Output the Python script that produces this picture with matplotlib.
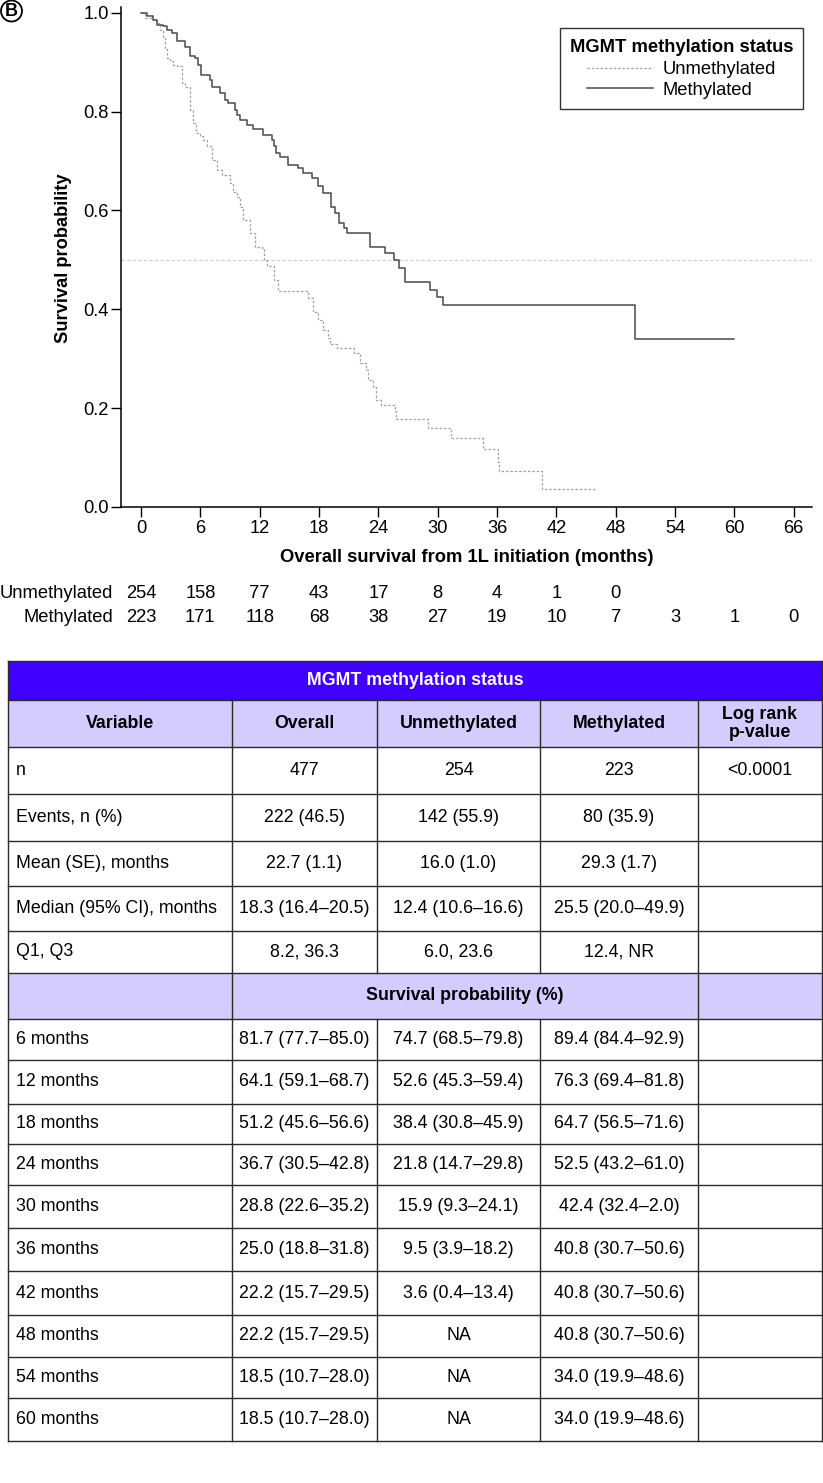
"""
Kaplan-Meier overall survival by MGMT methylation status, with risk table
and summary table underneath.
"""

import matplotlib
matplotlib.use('Agg')
import matplotlib.pyplot as plt
from matplotlib.patches import Rectangle, Circle
from matplotlib import transforms

plt.rcParams['font.family'] = ['Liberation Sans', 'DejaVu Sans']

# KM step values (time in months, survival after step)
meth_t = [0, 0.57, 1.25, 1.6, 2.26, 2.6, 3.1, 3.6, 4.45, 4.95, 5.46, 5.8, 6.1,
          6.98, 7.15, 8.0, 8.5, 8.83, 9.5, 9.7, 10.0, 10.7, 11.35, 12.37, 13.2,
          13.4, 13.7, 14.05, 14.9, 15.9, 16.4, 17.26, 17.9, 18.4, 19.2, 19.6,
          20.05, 20.5, 20.8, 23.2, 24.7, 25.6, 26.1, 26.7, 29.2, 29.96, 30.5,
          49.95, 60.0]
meth_s = [1.0, 0.993, 0.986, 0.976, 0.973, 0.966, 0.959, 0.943, 0.932, 0.912,
          0.909, 0.895, 0.875, 0.865, 0.851, 0.838, 0.824, 0.818, 0.804, 0.794,
          0.784, 0.774, 0.764, 0.753, 0.743, 0.730, 0.716, 0.709, 0.693, 0.686,
          0.676, 0.666, 0.649, 0.636, 0.608, 0.595, 0.574, 0.564, 0.554, 0.527,
          0.514, 0.500, 0.483, 0.455, 0.439, 0.424, 0.409, 0.340, 0.340]

unmeth_t = [0, 0.4, 1.25, 1.6, 1.9, 2.25, 2.4, 2.6, 2.9, 3.27, 3.6, 4.1, 4.45,
            4.95, 5.3, 5.6, 5.97, 6.3, 6.64, 7.15, 7.65, 8.16, 9.0, 9.33, 9.7,
            10.0, 10.35, 11.0, 11.5, 12.2, 12.4, 12.7, 13.4, 13.9, 16.9, 17.4,
            17.9, 18.4, 18.9, 19.1, 19.8, 21.5, 22.1, 22.8, 23.0, 23.5, 23.8,
            24.3, 25.7, 25.8, 29.0, 31.3, 34.6, 36.1, 36.2, 40.5, 45.9]
unmeth_s = [1.0, 0.99, 0.986, 0.98, 0.966, 0.949, 0.926, 0.909, 0.902, 0.895,
            0.892, 0.858, 0.851, 0.804, 0.777, 0.757, 0.750, 0.743, 0.730,
            0.703, 0.682, 0.672, 0.655, 0.638, 0.628, 0.608, 0.581, 0.554,
            0.527, 0.524, 0.500, 0.487, 0.459, 0.436, 0.422, 0.395, 0.378,
            0.358, 0.341, 0.329, 0.321, 0.311, 0.291, 0.277, 0.257, 0.243,
            0.216, 0.206, 0.193, 0.177, 0.159, 0.139, 0.118, 0.091, 0.0725,
            0.0355, 0.0355]

# numbers at risk
risk_times = [0, 6, 12, 18, 24, 30, 36, 42, 48, 54, 60, 66]
risk_unmeth = [254, 158, 77, 43, 17, 8, 4, 1, 0]
risk_meth = [223, 171, 118, 68, 38, 27, 19, 10, 7, 3, 1, 0]

# summary table
table_title = 'MGMT methylation status'
header = ['Variable', 'Overall', 'Unmethylated', 'Methylated', 'Log rank\np-value']
summary_rows = [
    ['n', '477', '254', '223', '<0.0001'],
    ['Events, n (%)', '222 (46.5)', '142 (55.9)', '80 (35.9)', ''],
    ['Mean (SE), months', '22.7 (1.1)', '16.0 (1.0)', '29.3 (1.7)', ''],
    ['Median (95% CI), months', '18.3 (16.4\u201320.5)', '12.4 (10.6\u201316.6)',
     '25.5 (20.0\u201349.9)', ''],
    ['Q1, Q3', '8.2, 36.3', '6.0, 23.6', '12.4, NR', ''],
]
surv_header = 'Survival probability (%)'
surv_labels = ['6 months', '12 months', '18 months', '24 months', '30 months',
               '36 months', '42 months', '48 months', '54 months', '60 months']
surv_overall = ['81.7 (77.7\u201385.0)', '64.1 (59.1\u201368.7)', '51.2 (45.6\u201356.6)',
                '36.7 (30.5\u201342.8)', '28.8 (22.6\u201335.2)', '25.0 (18.8\u201331.8)',
                '22.2 (15.7\u201329.5)', '22.2 (15.7\u201329.5)', '18.5 (10.7\u201328.0)',
                '18.5 (10.7\u201328.0)']
surv_unmeth = ['74.7 (68.5\u201379.8)', '52.6 (45.3\u201359.4)', '38.4 (30.8\u201345.9)',
               '21.8 (14.7\u201329.8)', '15.9 (9.3\u201324.1)', '9.5 (3.9\u201318.2)',
               '3.6 (0.4\u201313.4)', 'NA', 'NA', 'NA']
surv_meth = ['89.4 (84.4\u201392.9)', '76.3 (69.4\u201381.8)', '64.7 (56.5\u201371.6)',
             '52.5 (43.2\u201361.0)', '42.4 (32.4\u20132.0)', '40.8 (30.7\u201350.6)',
             '40.8 (30.7\u201350.6)', '40.8 (30.7\u201350.6)', '34.0 (19.9\u201348.6)',
             '34.0 (19.9\u201348.6)']

W, H = 823, 1483
FS = 13.2      # plot text
TFS = 12.8     # table text
fig = plt.figure(figsize=(W / 100, H / 100), dpi=100)

# overlay axes in pixel coordinates for the table and panel letter
ov = fig.add_axes([0, 0, 1, 1])
ov.set_xlim(0, W)
ov.set_ylim(H, 0)
ov.axis('off')

# ---- KM plot ----
ax = fig.add_axes([121.5 / W, 1 - 506.8 / H, (812 - 121.5) / W, (506.8 - 7) / H])
ax.patch.set_alpha(0)
ax.step(unmeth_t, unmeth_s, where='post', color='#a0a0a0', lw=0.9,
        linestyle=(0, (2, 1.5)), label='Unmethylated')
ax.step(meth_t, meth_s, where='post', color='#4a4a4a', lw=1.1,
        label='Methylated')
ax.axhline(0.5, color='#cccccc', lw=0.8, linestyle=(0, (3, 2)), zorder=0)

ax.set_xlim(-1.97, 67.85)
ax.set_ylim(0, 1.012)
ax.set_xticks(risk_times)
ax.set_yticks([0, 0.2, 0.4, 0.6, 0.8, 1.0])
ax.set_yticklabels(['0.0', '0.2', '0.4', '0.6', '0.8', '1.0'])
ax.spines['top'].set_visible(False)
ax.spines['right'].set_visible(False)
for s in ['left', 'bottom']:
    ax.spines[s].set_linewidth(1.1)
ax.tick_params(axis='both', labelsize=FS, length=7.5, width=1.0, direction='out')
ax.tick_params(axis='x', pad=2)
ax.tick_params(axis='y', pad=1.5)

leg = ax.legend(title='MGMT methylation status', loc='upper right',
                bbox_to_anchor=(0.9874, 0.957), borderaxespad=0, fontsize=FS,
                title_fontproperties={'weight': 'bold', 'size': FS},
                handlelength=3.6, handletextpad=0.5, fancybox=False,
                framealpha=1, edgecolor='#333333', borderpad=0.55,
                labelspacing=0.2)
leg.get_frame().set_linewidth(1.0)
leg._legend_box.sep = 4

fig.text(64 / W, 1 - 258 / H, 'Survival probability', rotation=90, ha='center',
         va='center', fontsize=FS, fontweight='bold')
fig.text(467 / W, 1 - 557 / H, 'Overall survival from 1L initiation (months)',
         ha='center', va='center', fontsize=FS, fontweight='bold')

# numbers at risk
trans = transforms.blended_transform_factory(ax.transData, fig.transFigure)
fig.text(113 / W, 1 - 594 / H, 'Unmethylated', ha='right', va='center', fontsize=FS)
fig.text(113 / W, 1 - 617 / H, 'Methylated', ha='right', va='center', fontsize=FS)
for t, n in zip(risk_times, risk_unmeth):
    ax.text(t, 1 - 594 / H, str(n), transform=trans, ha='center', va='center',
            fontsize=FS, clip_on=False)
for t, n in zip(risk_times, risk_meth):
    ax.text(t, 1 - 617 / H, str(n), transform=trans, ha='center', va='center',
            fontsize=FS, clip_on=False)

# panel letter
ov.add_patch(Circle((11.5, 11), 10.5, facecolor='white', edgecolor='black', lw=1.3))
ov.text(11.5, 11.8, 'B', ha='center', va='center', fontsize=13, fontweight='bold')

# ---- summary table ----
col_x = [8, 232, 377, 540, 698, 822]
row_y = [660.7, 700, 747, 794, 841, 886, 931, 973, 1019, 1060, 1104, 1144,
         1185, 1228, 1271, 1315, 1357, 1398, 1441]
blue = '#4000ff'
lav = '#d4ccff'
line_c = '#2a2a2a'

ov.add_patch(Rectangle((col_x[0], row_y[0]), col_x[-1] - col_x[0],
                       row_y[1] - row_y[0], facecolor=blue, edgecolor='none'))
ov.add_patch(Rectangle((col_x[0], row_y[1]), col_x[-1] - col_x[0],
                       row_y[2] - row_y[1], facecolor=lav, edgecolor='none'))
ov.add_patch(Rectangle((col_x[0], row_y[7]), col_x[-1] - col_x[0],
                       row_y[8] - row_y[7], facecolor=lav, edgecolor='none'))

for y in row_y:
    ov.plot([col_x[0], col_x[-1]], [y, y], color=line_c, lw=1.0)
ov.plot([col_x[0], col_x[0]], [row_y[0], row_y[-1]], color=line_c, lw=1.0)
ov.plot([col_x[-1], col_x[-1]], [row_y[0], row_y[-1]], color=line_c, lw=1.0)
for cx in col_x[1:-1]:
    ov.plot([cx, cx], [row_y[1], row_y[7]], color=line_c, lw=1.0)
    ov.plot([cx, cx], [row_y[8], row_y[-1]], color=line_c, lw=1.0)
for cx in [col_x[1], col_x[4]]:
    ov.plot([cx, cx], [row_y[7], row_y[8]], color=line_c, lw=1.0)


def row_mid(i):
    return (row_y[i] + row_y[i + 1]) / 2


def col_mid(j):
    return (col_x[j] + col_x[j + 1]) / 2


ov.text((col_x[0] + col_x[-1]) / 2, row_mid(0), table_title, ha='center',
        va='center', fontsize=TFS, fontweight='bold', color='white')
for j, h in enumerate(header):
    ov.text(col_mid(j), row_mid(1), h, ha='center', va='center', fontsize=TFS,
            fontweight='bold', linespacing=1.05)

for i, row in enumerate(summary_rows):
    r = row_mid(2 + i)
    ov.text(col_x[0] + 8, r, row[0], ha='left', va='center', fontsize=TFS)
    for j in range(1, 5):
        ov.text(col_mid(j), r, row[j], ha='center', va='center', fontsize=TFS)

ov.text((col_x[1] + col_x[4]) / 2, row_mid(7), surv_header, ha='center',
        va='center', fontsize=TFS, fontweight='bold')

for i, lab in enumerate(surv_labels):
    r = row_mid(8 + i)
    ov.text(col_x[0] + 8, r, lab, ha='left', va='center', fontsize=TFS)
    ov.text(col_mid(1), r, surv_overall[i], ha='center', va='center', fontsize=TFS)
    ov.text(col_mid(2), r, surv_unmeth[i], ha='center', va='center', fontsize=TFS)
    ov.text(col_mid(3), r, surv_meth[i], ha='center', va='center', fontsize=TFS)

fig.savefig('out.png', dpi=100)
